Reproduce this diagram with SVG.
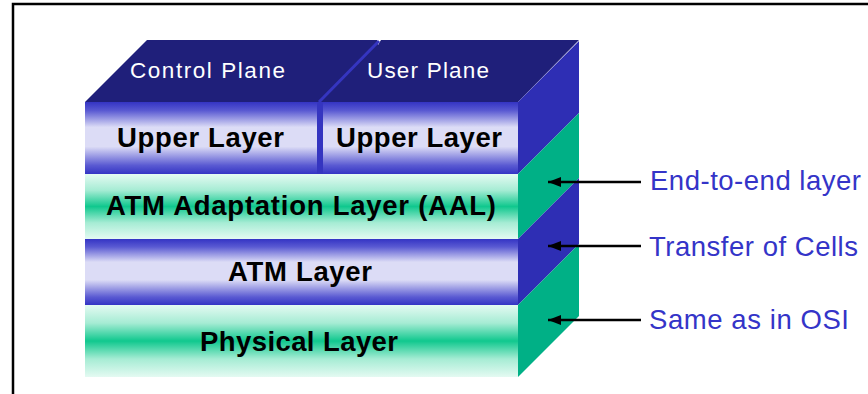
<svg xmlns="http://www.w3.org/2000/svg" width="868" height="394" viewBox="0 0 868 394">
<style>
.front{font-family:"Liberation Sans",Arial,sans-serif;font-weight:bold;font-size:27.5px;fill:#000}
.plane{font-family:"Liberation Sans",Arial,sans-serif;font-size:22.5px;fill:#fff}
.lbl{font-family:"Liberation Sans",Arial,sans-serif;font-size:27.5px;fill:#3434c8}
.sideB{fill:#2e2eb4}
.sideG{fill:#00b086}
.top{fill:#1f1f7a}
.conn{stroke:#000;stroke-width:2.5;fill:none}
</style>
<defs>
<linearGradient id="gB" x1="0" y1="0" x2="0" y2="1">
<stop offset="0" stop-color="#3434c4"/>
<stop offset="0.12" stop-color="#5a5ad2"/>
<stop offset="0.35" stop-color="#dcdcf6"/>
<stop offset="0.62" stop-color="#dcdcf6"/>
<stop offset="0.88" stop-color="#5a5ad2"/>
<stop offset="1" stop-color="#3434c4"/>
</linearGradient>
<linearGradient id="gG" x1="0" y1="0" x2="0" y2="1">
<stop offset="0" stop-color="#e4faf2"/>
<stop offset="0.25" stop-color="#a6ecd4"/>
<stop offset="0.5" stop-color="#10c88e"/>
<stop offset="0.75" stop-color="#a6ecd4"/>
<stop offset="1" stop-color="#e4faf2"/>
</linearGradient>
<marker id="ah" markerUnits="userSpaceOnUse" markerWidth="14" markerHeight="12" refX="13" refY="6" orient="auto">
<path d="M0,1 L13,6 L0,11 z" fill="#000"/>
</marker>
</defs>
<path d="M13,394 V4 H868" fill="none" stroke="#000" stroke-width="2.5"/>

<g id="top-planes">
<polygon class="top" points="85,102 147,40 579,40 518,102"/>
<polygon points="377,40 381,40 378,45" fill="#fff"/>
<line x1="379" y1="41" x2="319" y2="102" stroke="#3535c0" stroke-width="3"/>
</g>
<g id="control-plane">
<text class="plane" x="130" y="78" textLength="155" lengthAdjust="spacing">Control Plane</text>
</g>
<g id="user-plane">
<text class="plane" x="367" y="78" textLength="122" lengthAdjust="spacing">User Plane</text>
</g>

<g id="upper-layer">
<polygon class="sideB" points="518,102 579,41 579,113 518,174"/>
<rect x="85" y="102" width="433" height="72" fill="url(#gB)"/>
<rect x="317" y="102" width="6" height="72" fill="#3535c0"/>
<text class="front" x="117" y="147" textLength="167" lengthAdjust="spacing">Upper Layer</text>
<text class="front" x="336" y="147" textLength="166" lengthAdjust="spacing">Upper Layer</text>
</g>

<g id="aal-layer">
<polygon class="sideG" points="518,174 579,113 579,178 518,239"/>
<rect x="85" y="174" width="433" height="65" fill="url(#gG)"/>
<text class="front" x="106" y="215" textLength="390" lengthAdjust="spacing">ATM Adaptation Layer (AAL)</text>
</g>

<g id="atm-layer">
<polygon class="sideB" points="518,239 579,178 579,244 518,305"/>
<rect x="85" y="239" width="433" height="66" fill="url(#gB)"/>
<text class="front" x="228" y="281" textLength="144" lengthAdjust="spacing">ATM Layer</text>
</g>

<g id="physical-layer">
<polygon class="sideG" points="518,305 579,244 579,316 518,377"/>
<rect x="85" y="305" width="433" height="72" fill="url(#gG)"/>
<text class="front" x="200" y="351" textLength="198" lengthAdjust="spacing">Physical Layer</text>
</g>

<g id="connectors">
<line class="conn" x1="641" y1="182" x2="548" y2="182" marker-end="url(#ah)"/>
<line class="conn" x1="641" y1="246" x2="548" y2="246" marker-end="url(#ah)"/>
<line class="conn" x1="641" y1="320" x2="548" y2="320" marker-end="url(#ah)"/>
</g>

<g id="label-end-to-end">
<text class="lbl" x="650" y="190" textLength="211" lengthAdjust="spacing">End-to-end layer</text>
</g>
<g id="label-transfer">
<text class="lbl" x="649" y="256" textLength="209" lengthAdjust="spacing">Transfer of Cells</text>
</g>
<g id="label-same">
<text class="lbl" x="649" y="329" textLength="200" lengthAdjust="spacing">Same as in OSI</text>
</g>
</svg>
